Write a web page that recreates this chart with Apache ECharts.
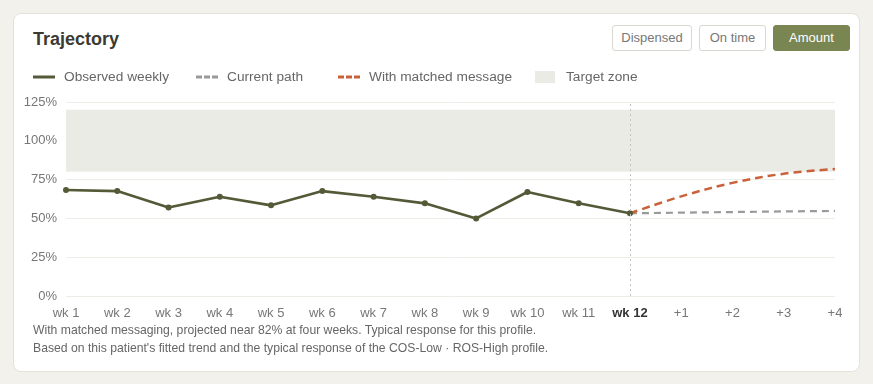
<!DOCTYPE html>
<html><head><meta charset="utf-8">
<script src="https://cdn.jsdelivr.net/npm/echarts@6/dist/echarts.min.js"></script>
<style>
html,body{margin:0;padding:0;width:873px;height:384px;background:#f3f1ec;font-family:"Liberation Sans",Arial,sans-serif;overflow:hidden;}
#card{position:absolute;left:13px;top:13px;width:845px;height:357px;background:#fff;border:1px solid #e4e2db;border-radius:8px;}
#title{position:absolute;left:33px;top:29px;font-size:18px;font-weight:bold;color:#3b3a33;}
.btn{position:absolute;top:25px;height:24px;border:1px solid #d9d7cf;border-radius:3px;font-size:13px;color:#777;line-height:24px;text-align:center;background:#fff;}
#chart{position:absolute;left:0;top:0;width:873px;height:384px;}
.note{position:absolute;left:33px;font-size:12.2px;color:#666;}
</style></head><body>
<div id="card"></div>
<div id="title">Trajectory</div>
<div class="btn" style="left:612px;width:78px;">Dispensed</div>
<div class="btn" style="left:699px;width:65px;">On time</div>
<div class="btn" style="left:773px;width:75px;background:#7a8651;border-color:#7a8651;color:#fff;">Amount</div>
<div id="chart"></div>
<div class="note" style="top:323px;">With matched messaging, projected near 82% at four weeks. Typical response for this profile.</div>
<div class="note" style="top:341px;">Based on this patient's fitted trend and the typical response of the COS-Low · ROS-High profile.</div>
<script>
const categories = ['wk 1','wk 2','wk 3','wk 4','wk 5','wk 6','wk 7','wk 8','wk 9','wk 10','wk 11','wk 12','+1','+2','+3','+4'];
const observed = [68.3, 67.6, 57.0, 64.0, 58.4, 67.6, 64.0, 59.7, 50.0, 67.0, 59.7, 53.3, null, null, null, null];
const currentPath = [null,null,null,null,null,null,null,null,null,null,null, 53.3, 53.7, 54.1, 54.5, 54.8];
const matched = [null,null,null,null,null,null,null,null,null,null,null, 53.3, 64.2, 72.9, 78.8, 81.8];
const targetZone = [80, 120];
const yTicks = {min: 0, max: 125, interval: 25};
const currentWeek = 'wk 12';

const chart = echarts.init(document.getElementById('chart'), null, {renderer:'canvas'});
const solidIcon = 'path://M0,0h22v3h-22z';
const dashIcon = 'path://M0,0h6v3h-6z M8,0h6v3h-6z M16,0h6v3h-6z';
const legendText = {color:'#666', fontSize:13.7, fontFamily:'Liberation Sans', padding:[0,0,0,4]};
const lg = {top:70, padding:0, itemWidth:22, itemHeight:3, itemGap:0, textStyle:legendText};
chart.setOption({
  animation:false,
  textStyle:{fontFamily:'Liberation Sans'},
  legend:[
    Object.assign({}, lg, {left:33, data:[{name:'Observed weekly', icon:solidIcon}]}),
    Object.assign({}, lg, {left:196, data:[{name:'Current path', icon:dashIcon}]}),
    Object.assign({}, lg, {left:338, data:[{name:'With matched message', icon:dashIcon}]}),
    Object.assign({}, lg, {left:535, itemWidth:20, itemHeight:12, textStyle:Object.assign({}, legendText, {padding:[0,0,0,6]}), data:[{name:'Target zone', icon:'rect'}]})
  ],
  grid:{left:66, right:38, top:102, bottom:88},
  xAxis:{type:'category', data:categories, boundaryGap:false,
    axisLine:{show:false}, axisTick:{show:false},
    axisLabel:{interval:0, margin:11, color:'#777', fontSize:13,
      formatter:function(v){return v===currentWeek?'{b|'+v+'}':v;},
      rich:{b:{fontWeight:'bold', color:'#333', fontSize:13}}},
    splitLine:{show:false}},
  yAxis:{type:'value', min:yTicks.min, max:yTicks.max, interval:yTicks.interval,
    axisLine:{show:false}, axisTick:{show:false},
    axisLabel:{margin:9, color:'#777', fontSize:13, formatter:'{value}%'},
    splitLine:{lineStyle:{color:'#eeede8', width:1}}},
  series:[
    {name:'Target zone', type:'line', data:[], itemStyle:{color:'#ebebe6'}, lineStyle:{color:'#ebebe6'},
      markArea:{silent:true, itemStyle:{color:'#ebebe6'}, data:[[{yAxis:targetZone[0]},{yAxis:targetZone[1]}]]},
      markLine:{silent:true, symbol:'none', label:{show:false}, lineStyle:{color:'#c4c4bf', type:[2,3], width:1},
        data:[{xAxis:currentWeek}]}},
    {name:'Current path', type:'line', data:currentPath, showSymbol:false, symbol:'none',
      itemStyle:{color:'#9a9a98'}, lineStyle:{color:'#9a9a98', width:2.2, type:[7,5]}},
    {name:'With matched message', type:'line', data:matched, smooth:0.35, showSymbol:false, symbol:'none',
      itemStyle:{color:'#c9623b'}, lineStyle:{color:'#c9623b', width:2.5, type:[8,5]}},
    {name:'Observed weekly', type:'line', data:observed, symbol:'circle', symbolSize:6,
      itemStyle:{color:'#545a38'}, lineStyle:{color:'#545a38', width:2.6}}
  ]
});
</script>
</body></html>
